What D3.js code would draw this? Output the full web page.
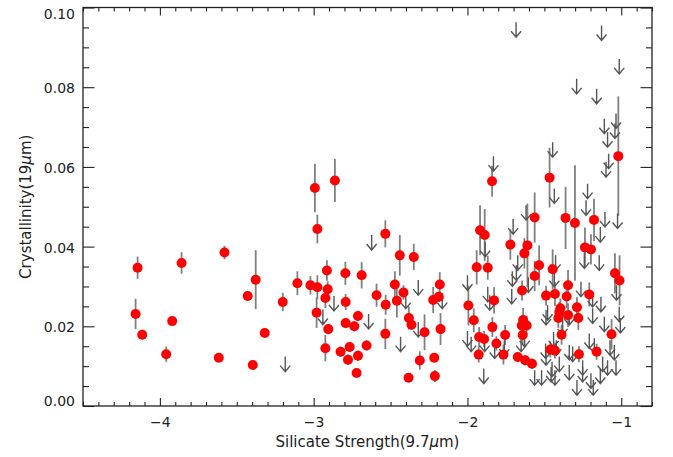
<!DOCTYPE html>
<html>
<head>
<meta charset="utf-8">
<script src="https://cdn.jsdelivr.net/npm/d3@7"></script>
<style>
  html, body { margin: 0; padding: 0; background: #fff; }
  #chart { width: 673px; height: 457px; }
  text { font-family: "DejaVu Sans", sans-serif; fill: #222; }
</style>
</head>
<body>
<div id="chart"></div>
<script>
// detections: silicate strength, crystallinity, 1-sigma error
var dotX = [-4.145,-4.158,-4.115,-3.959,-3.920,-3.859,-3.617,-3.580,-3.429,-3.377,-3.396,-3.318,-3.201,-3.106,
  -2.992,-2.862,-2.976,-2.534,-2.440,-2.349,-3.021,-2.976,-2.914,-2.909,-2.924,-2.981,-2.794,-2.688,-2.792,-2.905,-2.792,-2.736,-2.712,-2.924,-2.825,-2.766,-2.777,-2.712,-2.656,-2.721,-2.591,-2.532,-2.534,-2.472,-2.416,-2.459,-2.381,-2.364,-2.279,-2.310,-2.383,-2.216,-2.212,-2.180,-2.186,-2.223,-2.175,
  -1.994,-1.840,-1.466,-1.918,-1.888,-1.563,-1.721,-1.610,-1.630,-1.940,-1.868,-1.534,-1.563,-1.446,-1.645,-1.489,-1.431,-1.827,-1.959,-1.838,-1.638,-1.647,-1.615,-1.924,-1.892,-1.755,-1.641,-1.812,-1.927,-1.766,-1.673,-1.625,-1.580,-1.461,-1.431,
  -1.362,-1.301,-1.177,-1.236,-1.197,-1.346,-1.041,-1.011,-1.355,-1.208,-1.288,-1.396,-1.403,-1.409,-1.346,-1.279,-1.388,-1.063,-1.275,-1.160,-1.019];
var dotY = [0.0347,0.0231,0.0179,0.0130,0.0213,0.0359,0.0121,0.0385,0.0276,0.0317,0.0103,0.0183,0.0261,0.0308,
  0.0547,0.0566,0.0444,0.0432,0.0378,0.0374,0.0303,0.0298,0.0340,0.0293,0.0271,0.0234,0.0333,0.0328,0.0261,0.0193,0.0208,0.0200,0.0226,0.0145,0.0136,0.0148,0.0116,0.0126,0.0152,0.0083,0.0278,0.0254,0.0181,0.0305,0.0285,0.0264,0.0221,0.0204,0.0185,0.0114,0.0071,0.0121,0.0075,0.0305,0.0274,0.0266,0.0193,
  0.0252,0.0564,0.0573,0.0441,0.0429,0.0473,0.0405,0.0403,0.0383,0.0348,0.0347,0.0353,0.0326,0.0343,0.0290,0.0277,0.0281,0.0265,0.0215,0.0198,0.0216,0.0202,0.0202,0.0173,0.0168,0.0178,0.0178,0.0157,0.0129,0.0129,0.0123,0.0115,0.0106,0.0142,0.0139,
  0.0472,0.0459,0.0467,0.0398,0.0393,0.0303,0.0333,0.0315,0.0275,0.0280,0.0248,0.0245,0.0236,0.0221,0.0228,0.0221,0.0179,0.0180,0.0130,0.0136,0.0627];
var dotErr = [0.0028,0.0038,0.0008,0.0019,0.0008,0.0027,0.0005,0.0017,0.0010,0.0074,0.0005,0.0005,0.0023,0.0030,
  0.0061,0.0054,0.0036,0.0034,0.0051,0.0033,0.0023,0.0030,0.0026,0.0020,0.0025,0.0038,0.0029,0.0033,0.0020,0.0013,0.0010,0.0013,0.0013,0.0033,0.0013,0.0013,0.0013,0.0013,0.0013,0.0005,0.0029,0.0025,0.0038,0.0033,0.0018,0.0042,0.0029,0.0013,0.0045,0.0023,0.0005,0.0008,0.0015,0.0031,0.0013,0.0033,0.0040,
  0.0050,0.0039,0.0075,0.0063,0.0065,0.0063,0.0038,0.0105,0.0038,0.0043,0.0030,0.0050,0.0038,0.0050,0.0025,0.0025,0.0030,0.0033,0.0030,0.0025,0.0030,0.0025,0.0025,0.0025,0.0020,0.0025,0.0025,0.0018,0.0020,0.0025,0.0013,0.0013,0.0013,0.0020,0.0020,
  0.0078,0.0145,0.0053,0.0050,0.0038,0.0038,0.0050,0.0063,0.0030,0.0030,0.0025,0.0025,0.0025,0.0025,0.0030,0.0030,0.0025,0.0038,0.0020,0.0020,0.0150];

// upper limits
var limX = [-3.185,-2.623,-2.868,-2.940,-2.643,-2.320,-2.401,-2.164,-2.320,-2.435,-2.000,-2.000,
  -1.831,-1.446,-1.435,-1.619,-1.703,-1.885,-1.673,-1.682,-1.708,-1.604,-1.427,-1.435,-1.868,-1.855,-1.712,-1.479,-1.976,-1.888,-1.823,-1.760,-1.628,-1.651,-1.440,-1.422,-1.492,-1.894,-1.563,-1.518,-1.456,-1.431,
  -1.229,-1.106,-1.136,-1.024,-1.240,-1.143,-1.262,-1.186,-1.132,-1.031,-1.013,-1.489,-1.338,-1.186,-1.006,-1.110,-1.381,-1.208,-1.175,-1.073,-1.045,-1.338,-1.316,-1.489,-1.403,-1.450,-1.251,-1.121,-1.089,-1.034,-1.338,-1.251,-1.197,-1.136,-1.288,-1.182,
  -1.684,-1.128,-1.013,-1.290,-1.160,-1.110,-1.034,-1.041,-1.089,-1.082,-1.099,-1.219];
var limY = [0.0124,0.0429,0.0276,0.0242,0.0231,0.0316,0.0282,0.0282,0.0211,0.0174,0.0328,0.0188,
  0.0627,0.0662,0.0546,0.0504,0.0469,0.0412,0.0378,0.0353,0.0338,0.0323,0.0378,0.0337,0.0299,0.0278,0.0294,0.0253,0.0174,0.0174,0.0157,0.0165,0.0186,0.0174,0.0186,0.0165,0.0157,0.0094,0.0090,0.0090,0.0098,0.0090,
  0.0516,0.0487,0.0449,0.0483,0.0383,0.0378,0.0312,0.0286,0.0274,0.0303,0.0249,0.0241,0.0241,0.0245,0.0221,0.0224,0.0216,0.0182,0.0170,0.0165,0.0153,0.0153,0.0149,0.0140,0.0124,0.0111,0.0115,0.0124,0.0115,0.0115,0.0103,0.0098,0.0082,0.0094,0.0065,0.0065,
  0.0963,0.0955,0.0871,0.0821,0.0796,0.0721,0.0734,0.0709,0.0687,0.0633,0.0612,0.0558];

var xMajor = [-4, -3, -2, -1];
var yMajor = [0, 0.02, 0.04, 0.06, 0.08, 0.10];

var W = 673, H = 457;
var margin = { top: 7.5, right: 21, bottom: 51, left: 83 };
var iw = W - margin.left - margin.right;
var ih = H - margin.top - margin.bottom;

var svg = d3.select("#chart").append("svg")
  .attr("width", W)
  .attr("height", H);
var g = svg.append("g").attr("transform", "translate(" + margin.left + "," + margin.top + ")");

var x = d3.scaleLinear().domain([-4.5, -0.8]).range([0, iw]);
var y = d3.scaleLinear().domain([0, 0.1]).range([ih, 0]);

var xMinor = d3.range(-4.5, -0.79, 0.1).map(function(d) { return +d.toFixed(1); })
  .filter(function(d) { return xMajor.indexOf(d) < 0; });
var yMinor = d3.range(0, 0.1001, 0.005).map(function(d) { return +d.toFixed(3); })
  .filter(function(d) { return yMajor.indexOf(d) < 0; });

function styleAxis(sel) {
  sel.select(".domain").remove();
  sel.selectAll("line").attr("stroke", "#222").attr("stroke-width", 1.1);
  sel.selectAll("text").attr("font-size", 14).attr("fill", "#222");
}

// bottom
g.append("g").attr("transform", "translate(0," + ih + ")")
  .call(d3.axisBottom(x).tickValues(xMajor).tickSize(-8).tickPadding(11).tickFormat(d3.format("d")))
  .call(styleAxis);
g.append("g").attr("transform", "translate(0," + ih + ")")
  .call(d3.axisBottom(x).tickValues(xMinor).tickSize(-4).tickFormat(""))
  .call(styleAxis);
// top
g.append("g")
  .call(d3.axisTop(x).tickValues(xMajor).tickSize(-8).tickFormat(""))
  .call(styleAxis);
g.append("g")
  .call(d3.axisTop(x).tickValues(xMinor).tickSize(-4).tickFormat(""))
  .call(styleAxis);
// left
var yAxisG = g.append("g")
  .call(d3.axisLeft(y).tickValues(yMajor).tickSize(-11.5).tickPadding(8).tickFormat(d3.format(".2f")))
  .call(styleAxis);
// end labels sit inside the frame, like the original
yAxisG.selectAll(".tick text")
  .attr("dy", function(d) { return d === 0 ? "-0.05em" : (d === 0.1 ? "0.75em" : "0.4em"); });
g.append("g")
  .call(d3.axisLeft(y).tickValues(yMinor).tickSize(-6).tickFormat(""))
  .call(styleAxis);
// right
g.append("g").attr("transform", "translate(" + iw + ",0)")
  .call(d3.axisRight(y).tickValues(yMajor).tickSize(-11.5).tickFormat(""))
  .call(styleAxis);
g.append("g").attr("transform", "translate(" + iw + ",0)")
  .call(d3.axisRight(y).tickValues(yMinor).tickSize(-6).tickFormat(""))
  .call(styleAxis);

g.append("rect")
  .attr("width", iw).attr("height", ih)
  .attr("fill", "none").attr("stroke", "#222").attr("stroke-width", 1.3);

var dots = dotX.map(function(d, i) { return { x: d, y: dotY[i], e: dotErr[i] }; });
var lims = limX.map(function(d, i) { return { x: d, y: limY[i] }; });

// error bars
g.append("g").selectAll("line").data(dots).join("line")
  .attr("x1", function(d) { return x(d.x); })
  .attr("x2", function(d) { return x(d.x); })
  .attr("y1", function(d) { return y(d.y + d.e); })
  .attr("y2", function(d) { return y(d.y - d.e); })
  .attr("stroke", "#808080")
  .attr("stroke-width", 1.8);

// upper-limit arrows
g.append("g").selectAll("path").data(lims).join("path")
  .attr("d", function(d) {
    var px = x(d.x), py = y(d.y);
    return "M" + px + "," + py + "V" + (py + 15) +
      "M" + (px - 5) + "," + (py + 9) + "L" + px + "," + (py + 15) + "L" + (px + 5) + "," + (py + 9);
  })
  .attr("fill", "none")
  .attr("stroke", "#555")
  .attr("stroke-width", 1.4);

// detections
g.append("g").selectAll("circle").data(dots).join("circle")
  .attr("cx", function(d) { return x(d.x); })
  .attr("cy", function(d) { return y(d.y); })
  .attr("r", 5)
  .attr("fill", "#ff0000");

// titles
var xt = svg.append("text")
  .attr("x", margin.left + iw / 2)
  .attr("y", 447)
  .attr("text-anchor", "middle")
  .attr("font-size", 15);
xt.append("tspan").text("Silicate Strength(9.7");
xt.append("tspan").attr("font-style", "italic").text("μ");
xt.append("tspan").text("m)");

var yt = svg.append("text")
  .attr("transform", "translate(31," + (margin.top + ih / 2) + ") rotate(-90)")
  .attr("text-anchor", "middle")
  .attr("font-size", 15);
yt.append("tspan").text("Crystallinity(19");
yt.append("tspan").attr("font-style", "italic").text("μ");
yt.append("tspan").text("m)");
</script>
</body>
</html>
